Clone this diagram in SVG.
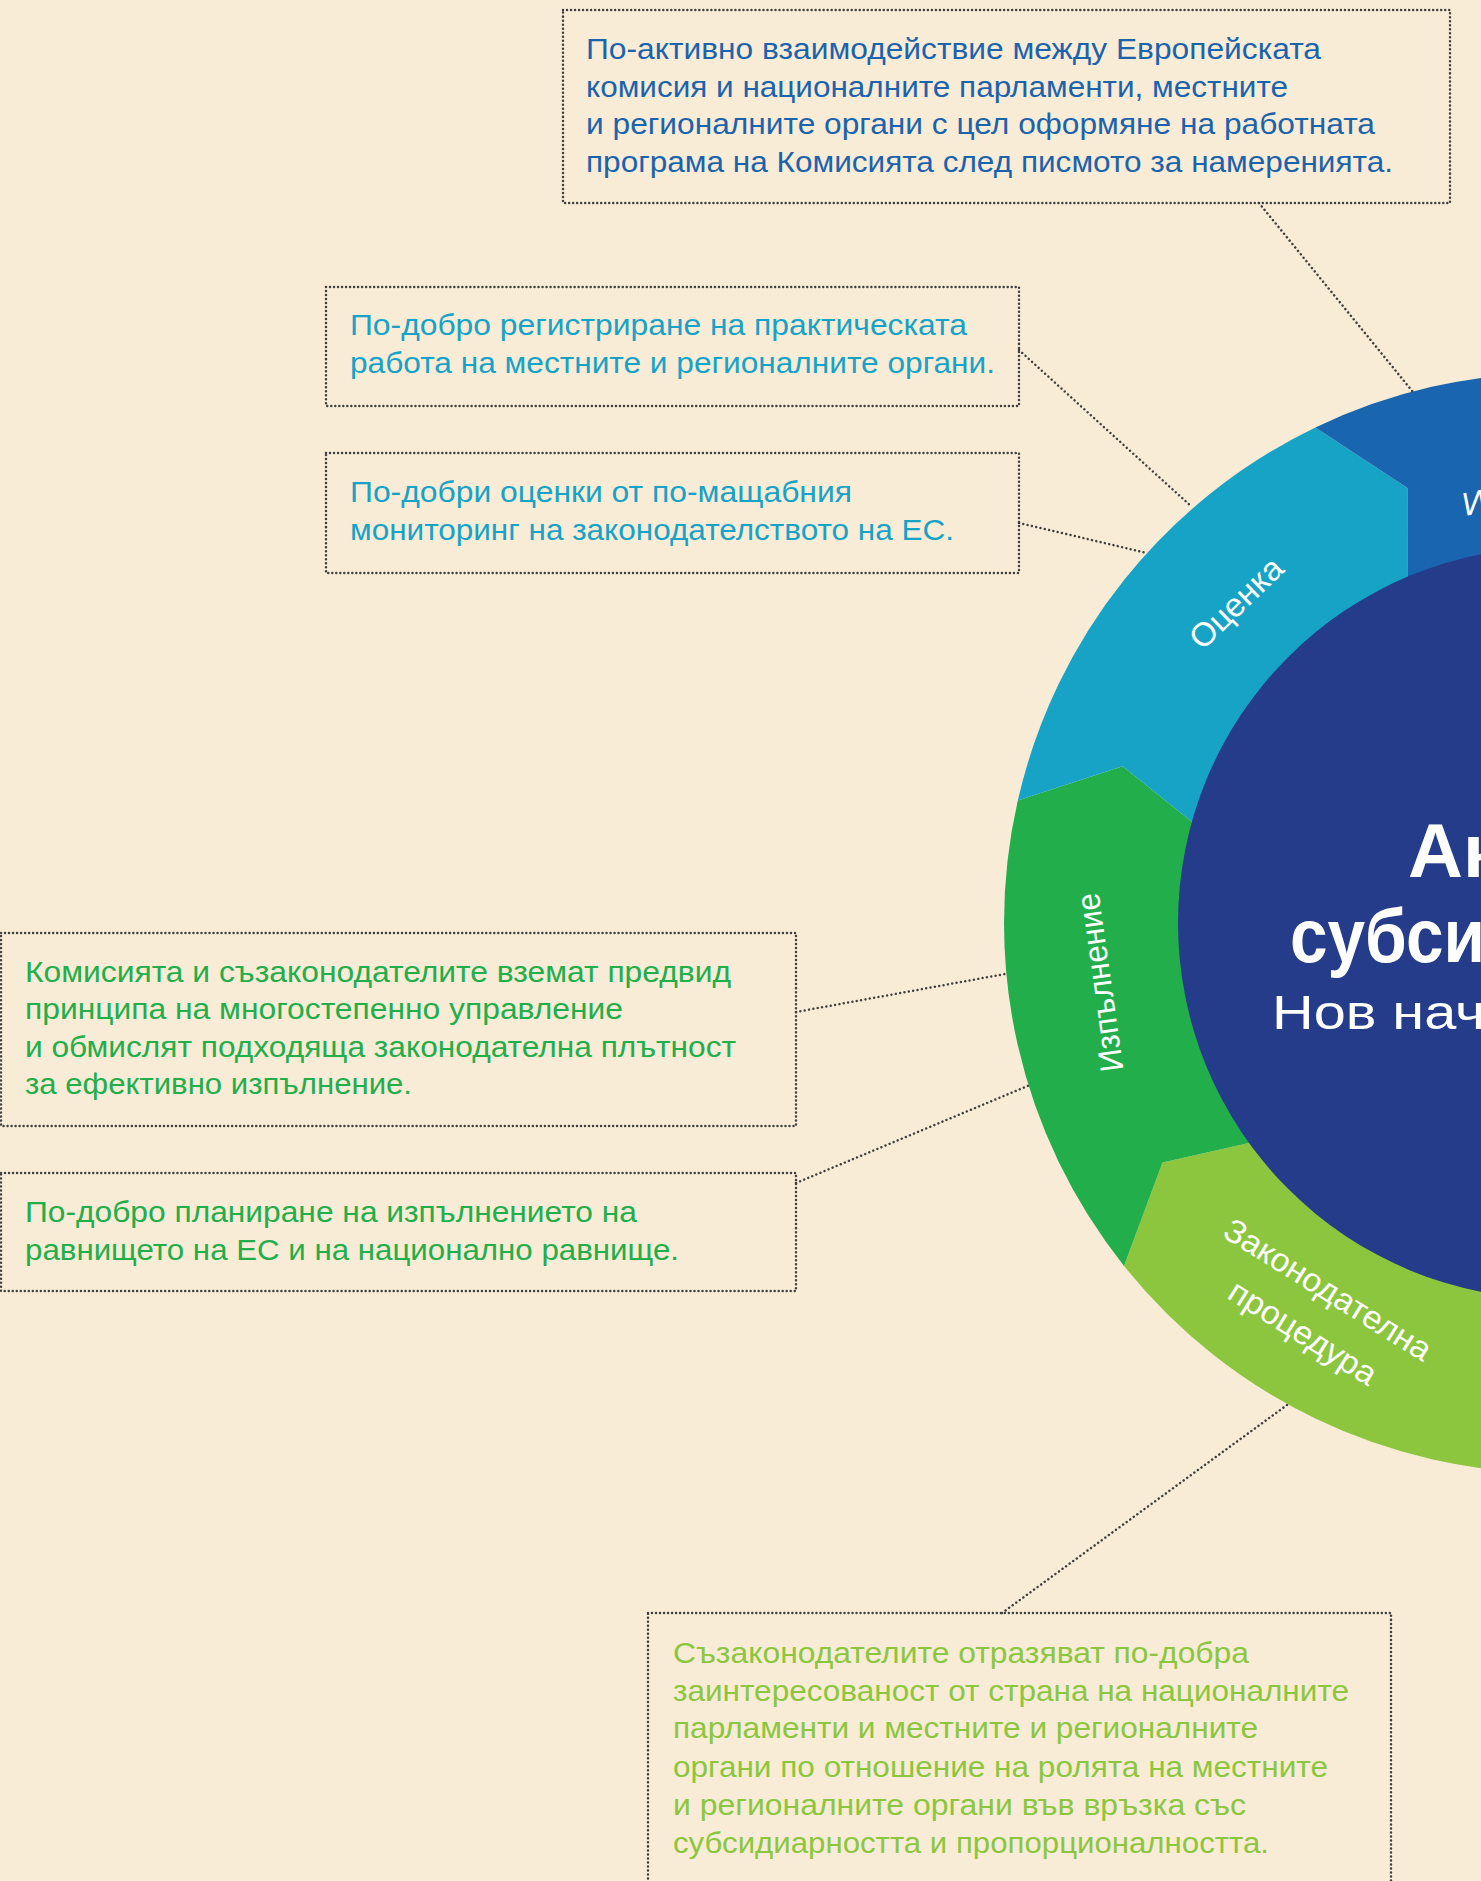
<svg xmlns="http://www.w3.org/2000/svg" width="1481" height="1881" viewBox="0 0 1481 1881">
<style>
.box{fill:none;stroke:#3f3f3f;stroke-width:2.5;stroke-dasharray:0.01 4;stroke-linecap:round}
.con{fill:none;stroke:#3f3f3f;stroke-width:2.5;stroke-dasharray:0.01 4.4;stroke-linecap:round}
.t{font-family:"Liberation Sans","Noto Sans",sans-serif;font-size:29px}
.c1{fill:#1b63ad}.c2{fill:#17a2c7}.c3{fill:#21ae4b}.c4{fill:#8cc63f}
.lab{font-family:"Liberation Sans","Noto Sans",sans-serif;font-size:33px;fill:#ffffff}
.ttl{font-family:"Liberation Sans","Noto Sans",sans-serif;fill:#ffffff}
</style>
<rect width="1481" height="1881" fill="#f9ecd6"/>
<g id="ring">
<path id="seg-legislative" d="M1554,1473 A550,550 0 0 1 1124.0,1265.9 L1162.5,1162.6 L1250.1,1142.7 A375,375 0 0 0 1536.3,1297.6 L1497.3,1378.5 Z" fill="#8cc63f"/>
<path id="seg-implementation" d="M1124.0,1265.9 A550,550 0 0 1 1017.8,800.6 L1122.6,766.3 L1192.7,822.4 A375,375 0 0 0 1250.1,1142.7 L1162.5,1162.6 Z" fill="#21ae4b"/>
<path id="seg-evaluation" d="M1017.8,800.6 A550,550 0 0 1 1315.4,427.5 L1407.5,488.0 L1407.4,577.8 A375,375 0 0 0 1192.7,822.4 L1122.6,766.3 Z" fill="#16a3c6"/>
<path id="seg-top" d="M1315.4,427.5 A550,550 0 0 1 1792.6,427.5 L1802.7,537.2 L1732.4,593.2 A375,375 0 0 0 1407.4,577.8 L1407.5,488.0 Z" fill="#1a65af"/>
<circle id="centre" cx="1554" cy="923" r="376" fill="#253c8a"/>
</g>
<g id="ring-labels">
<text class="lab" transform="translate(1244,611) rotate(-44)" text-anchor="middle" textLength="116" lengthAdjust="spacingAndGlyphs">Оценка</text>
<text class="lab" transform="translate(1111,981) rotate(-98)" text-anchor="middle" textLength="180" lengthAdjust="spacingAndGlyphs">Изпълнение</text>
<text class="lab" transform="translate(1322,1299) rotate(32)" text-anchor="middle" textLength="238" lengthAdjust="spacingAndGlyphs">Законодателна</text>
<text class="lab" transform="translate(1297,1342) rotate(32)" text-anchor="middle" textLength="168" lengthAdjust="spacingAndGlyphs">процедура</text>
<text class="lab" transform="translate(1465,516) rotate(-11)">И</text>
</g>
<g id="title">
<text class="ttl" x="1408" y="877" font-size="76" font-weight="bold">Ак</text>
<text class="ttl" x="1290" y="962" font-size="76" font-weight="bold" textLength="195" lengthAdjust="spacingAndGlyphs">субси</text>
<text class="ttl" x="1272" y="1029" font-size="48" textLength="213" lengthAdjust="spacingAndGlyphs">Нов нач</text>
</g>
<g id="connectors">
<line class="con" x1="1259" y1="203" x2="1413" y2="392"/>
<line class="con" x1="1019" y1="350" x2="1192" y2="507"/>
<line class="con" x1="1019" y1="523" x2="1147" y2="553"/>
<line class="con" x1="796" y1="1012" x2="1005" y2="974"/>
<line class="con" x1="796" y1="1183" x2="1030" y2="1085"/>
<line class="con" x1="1002" y1="1613" x2="1287" y2="1405"/>
</g>
<g id="box1">
<rect class="box" x="563" y="10" width="887" height="193"/>
<text class="t c1" x="586" y="59" textLength="735" lengthAdjust="spacingAndGlyphs">По-активно взаимодействие между Европейската</text>
<text class="t c1" x="586" y="97" textLength="702" lengthAdjust="spacingAndGlyphs">комисия и националните парламенти, местните</text>
<text class="t c1" x="586" y="134" textLength="789" lengthAdjust="spacingAndGlyphs">и регионалните органи с цел оформяне на работната</text>
<text class="t c1" x="586" y="172" textLength="807" lengthAdjust="spacingAndGlyphs">програма на Комисията след писмото за намеренията.</text>
</g>
<g id="box2">
<rect class="box" x="326" y="287" width="693" height="119"/>
<text class="t c2" x="350" y="335" textLength="617" lengthAdjust="spacingAndGlyphs">По-добро регистриране на практическата</text>
<text class="t c2" x="350" y="373" textLength="645" lengthAdjust="spacingAndGlyphs">работа на местните и регионалните органи.</text>
</g>
<g id="box3">
<rect class="box" x="326" y="453" width="693" height="120"/>
<text class="t c2" x="350" y="502" textLength="502" lengthAdjust="spacingAndGlyphs">По-добри оценки от по-мащабния</text>
<text class="t c2" x="350" y="540" textLength="604" lengthAdjust="spacingAndGlyphs">мониторинг на законодателството на ЕС.</text>
</g>
<g id="box4">
<rect class="box" x="1" y="933" width="795" height="193"/>
<text class="t c3" x="25" y="982" textLength="706" lengthAdjust="spacingAndGlyphs">Комисията и съзаконодателите вземат предвид</text>
<text class="t c3" x="25" y="1019" textLength="598" lengthAdjust="spacingAndGlyphs">принципа на многостепенно управление</text>
<text class="t c3" x="25" y="1057" textLength="711" lengthAdjust="spacingAndGlyphs">и обмислят подходяща законодателна плътност</text>
<text class="t c3" x="25" y="1094" textLength="387" lengthAdjust="spacingAndGlyphs">за ефективно изпълнение.</text>
</g>
<g id="box5">
<rect class="box" x="1" y="1173" width="795" height="118"/>
<text class="t c3" x="25" y="1222" textLength="612" lengthAdjust="spacingAndGlyphs">По-добро планиране на изпълнението на</text>
<text class="t c3" x="25" y="1260" textLength="654" lengthAdjust="spacingAndGlyphs">равнището на ЕС и на национално равнище.</text>
</g>
<g id="box6">
<rect class="box" x="648" y="1613" width="743" height="300"/>
<text class="t c4" x="673" y="1663" textLength="576" lengthAdjust="spacingAndGlyphs">Съзаконодателите отразяват по-добра</text>
<text class="t c4" x="673" y="1701" textLength="676" lengthAdjust="spacingAndGlyphs">заинтересованост от страна на националните</text>
<text class="t c4" x="673" y="1738" textLength="585" lengthAdjust="spacingAndGlyphs">парламенти и местните и регионалните</text>
<text class="t c4" x="673" y="1777" textLength="655" lengthAdjust="spacingAndGlyphs">органи по отношение на ролята на местните</text>
<text class="t c4" x="673" y="1815" textLength="573" lengthAdjust="spacingAndGlyphs">и регионалните органи във връзка със</text>
<text class="t c4" x="673" y="1853" textLength="596" lengthAdjust="spacingAndGlyphs">субсидиарността и пропорционалността.</text>
</g>
</svg>
